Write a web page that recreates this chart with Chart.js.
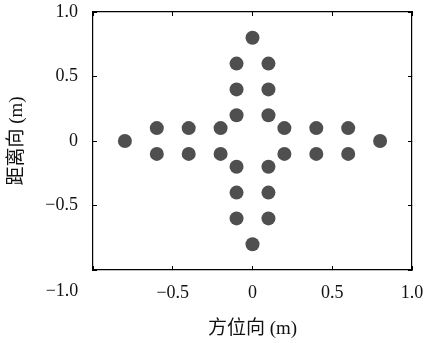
<!DOCTYPE html>
<html>
<head>
<meta charset="utf-8">
<script src="https://cdn.jsdelivr.net/npm/chart.js@4.4.1/dist/chart.umd.min.js"></script>
<style>
  html, body { margin: 0; padding: 0; background: #fff; }
</style>
</head>
<body>
<canvas id="myChart" width="425" height="343"></canvas>
<script>
// point positions (m)
const azimuth = [
  0, -0.1, 0.1, -0.1, 0.1, -0.1, 0.1,
  0, -0.1, 0.1, -0.1, 0.1, -0.1, 0.1,
  -0.8, -0.6, -0.6, -0.4, -0.4, -0.2, -0.2,
  0.8, 0.6, 0.6, 0.4, 0.4, 0.2, 0.2
]
const rangeDir = [
  0.8, 0.6, 0.6, 0.4, 0.4, 0.2, 0.2,
  -0.8, -0.6, -0.6, -0.4, -0.4, -0.2, -0.2,
  0, 0.1, -0.1, 0.1, -0.1, 0.1, -0.1,
  0, 0.1, -0.1, 0.1, -0.1, 0.1, -0.1
]
const xTicks = [-1, -0.5, 0, 0.5, 1]
const yTicks = [-1, -0.5, 0, 0.5, 1]
const xTitle = '方位向 (m)'
const yTitle = '距离向 (m)'

const serif = '"Liberation Serif", "DejaVu Serif", "Noto Sans CJK SC", serif'
const tickFont = { family: serif, size: 18 }
const titleFont = { family: serif, size: 19, lineHeight: 1.2 }
const TICK_LEN = -4

const fmt = v => v === 0 ? '0' : (v < 0 ? '\u2212' : '') + Math.abs(v).toFixed(1)

const points = azimuth.map((x, i) => ({ x: x, y: rangeDir[i] }))

const grid = {
  display: true,
  drawOnChartArea: false,
  drawTicks: true,
  tickLength: TICK_LEN,
  color: '#000',
  lineWidth: 1
}
const border = { display: true, color: '#000', width: 1.2 }

// no extra room for overhanging labels, the layout padding sets the box
const noPad = s => { s.paddingTop = 0; s.paddingBottom = 0; s.paddingLeft = 0; s.paddingRight = 0 }

// the -1.0 label on x sits off its tick in the original
const shiftedLabel = {
  id: 'shiftedLabel',
  afterDraw(chart) {
    const sx = chart.scales.x
    const ctx = chart.ctx
    ctx.save()
    ctx.font = tickFont.size + 'px ' + serif
    ctx.fillStyle = '#111'
    ctx.textAlign = 'center'
    ctx.textBaseline = 'top'
    ctx.fillText(fmt(xTicks[0]), sx.getPixelForValue(xTicks[0]) - 31, sx.top + TICK_LEN + sx.options.ticks.padding)
    ctx.restore()
  }
}

new Chart(document.getElementById('myChart'), {
  type: 'scatter',
  data: {
    datasets: [{
      data: points,
      backgroundColor: '#4f4f4f',
      borderWidth: 0,
      pointRadius: 7,
      pointHoverRadius: 7
    }]
  },
  options: {
    responsive: false,
    devicePixelRatio: 1,
    animation: false,
    layout: { padding: { left: 0, right: 13, top: 12, bottom: 0 } },
    plugins: { legend: { display: false }, tooltip: { enabled: false } },
    scales: {
      x: {
        type: 'linear', position: 'bottom', min: -1, max: 1,
        afterBuildTicks: s => { s.ticks = xTicks.map(v => ({ value: v })) },
        afterFit: s => { s.height = 73; noPad(s) },
        grid: grid, border: border,
        ticks: { font: tickFont, color: '#111', padding: 16, callback: v => v === xTicks[0] ? '' : fmt(v), maxRotation: 0 },
        title: { display: true, text: xTitle, font: titleFont, color: '#111', padding: { top: 0, bottom: 3 } }
      },
      xTop: {
        type: 'linear', position: 'top', min: -1, max: 1,
        afterBuildTicks: s => { s.ticks = xTicks.map(v => ({ value: v })) },
        afterFit: s => { s.height = 0; noPad(s) },
        grid: grid, border: border,
        ticks: { display: false }
      },
      y: {
        type: 'linear', position: 'left', min: -1, max: 1,
        afterBuildTicks: s => { s.ticks = yTicks.map(v => ({ value: v })) },
        afterFit: s => { s.width = 93; noPad(s) },
        grid: grid, border: border,
        ticks: { font: tickFont, color: '#111', padding: 19, callback: v => v === yTicks[0] ? '' : fmt(v) },
        title: { display: true, text: yTitle, font: titleFont, color: '#111', padding: { top: 6, bottom: 0 } }
      },
      yRight: {
        type: 'linear', position: 'right', min: -1, max: 1,
        afterBuildTicks: s => { s.ticks = yTicks.map(v => ({ value: v })) },
        afterFit: s => { s.width = 0; noPad(s) },
        grid: grid, border: border,
        ticks: { display: false }
      }
    }
  },
  plugins: [shiftedLabel]
})
</script>
</body>
</html>
